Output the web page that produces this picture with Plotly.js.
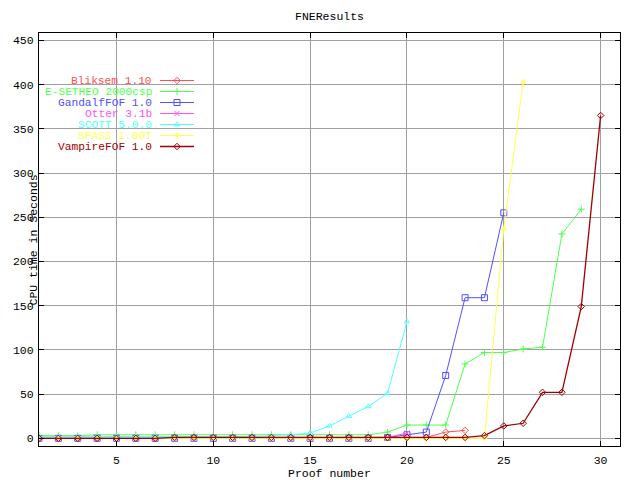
<!DOCTYPE html>
<html>
<head>
<meta charset="utf-8">
<script src="https://cdn.plot.ly/plotly-3.0.1.min.js"></script>
<style>html,body{margin:0;padding:0;background:#fff}#chart{width:640px;height:480px}</style>
</head>
<body>
<div id="chart"></div>
<script>
// ---- data ----
const seriesNames = ["Bliksem 1.10", "E-SETHEO 2000csp", "GandalfFOF 1.0", "Otter 3.1b", "SCOTT 5.0.0", "SPASS 1.00T", "VampireFOF 1.0"];
const seriesColors = ["#ff5050", "#50ff50", "#5050ff", "#ff50ff", "#50ffff", "#ffff50", "#a00000"];
const seriesSymbols = ["diamond-open", "cross-thin-open", "square-open", "x-thin-open", "triangle-up-open", "asterisk-open", "diamond-open"];

const bliksem  = [0,0,0,0,0,0,0,1,1,1,1,1,1,1,1,1,1,1,1,1,1,7,9];
const esetheo  = [3,3,3,4,4,4,4,4,4,4,4,4,4,4,4,4,4,4,7,15,15,15,84,97,97,101,103,231,259];
const gandalf  = [0,0,0,0,0,0,0,0,0,0,0,0,0,0,0,0,0,0,1,4,7,71,159,159,255];
const otter    = [0,0,0,0,0,0,0,0,0,0,0,0,0,0,0,0,0,0,1,6];
const scott    = [2,2,2,2,2,2,2,2,2,2,2,2,3,4,6,14,25,36,51,132];
const spass    = [0,0,0,0,0,0,0,0,0,0,0,0,0,0,0,0,0,0,0,0,0,0,0,0,237,403];
const vampire  = [0,0,0,0,0,0,0,1,1,1,1,1,1,1,1,1,1,1,1,1,1,1,1,3,14,17,52,52,149,365];
const allSeries = [bliksem, esetheo, gandalf, otter, scott, spass, vampire];

// ---- layout constants (pixels) ----
const W = 640, H = 480;
const L = 39, R = 620, T = 33, B = 446;
const FONT = "Liberation Mono, DejaVu Sans Mono, monospace";
const LEGFS = 11.2;

const lineW = i => (i === 6 ? 1.3 : 1);
const markerOf = i => ({symbol: seriesSymbols[i], size: i === 2 ? 6 : 5, color: seriesColors[i],
                        line: {width: 1, color: seriesColors[i]}});

const traces = allSeries.map((ys, i) => ({
  x: ys.map((_, k) => k + 1),
  y: ys,
  type: "scatter",
  mode: "lines+markers",
  name: seriesNames[i],
  line: {color: seriesColors[i], width: lineW(i)},
  marker: markerOf(i),
  showlegend: false,
  hoverinfo: "skip"
}));

// custom gnuplot-style legend: text right-aligned, sample to the right
const legRow0 = 80.5, legStep = 11, legTextRight = 153, legLine = [160, 194];
const annotations = [];
seriesNames.forEach((nm, i) => {
  const yy = legRow0 + i * legStep;
  annotations.push({
    xref: "x2", yref: "y2", x: legTextRight, y: yy, xanchor: "right", yanchor: "middle",
    text: nm, showarrow: false, borderpad: 0, font: {family: FONT, size: LEGFS, color: seriesColors[i]}
  });
  traces.push({
    x: legLine, y: [yy, yy], xaxis: "x2", yaxis: "y2", type: "scatter", mode: "lines",
    line: {color: seriesColors[i], width: lineW(i)}, showlegend: false, hoverinfo: "skip"
  });
  traces.push({
    x: [(legLine[0] + legLine[1]) / 2], y: [yy], xaxis: "x2", yaxis: "y2", type: "scatter", mode: "markers",
    marker: markerOf(i), showlegend: false, hoverinfo: "skip"
  });
});

annotations.push({
  xref: "paper", yref: "paper", x: 0.5, y: (B - 473) / (B - T), xanchor: "center", yanchor: "middle",
  text: "Proof number", showarrow: false, font: {family: FONT, size: 11.5, color: "#000"}
});
annotations.push({
  xref: "paper", yref: "paper", x: (32.5 - L) / (R - L), y: (B - 240) / (B - T), xanchor: "center", yanchor: "middle",
  text: "CPU time in Seconds", textangle: -90, showarrow: false, font: {family: FONT, size: 11.5, color: "#000"}
});

const layout = {
  width: W, height: H,
  margin: {l: L, r: W - R, t: T, b: H - B, pad: 0},
  paper_bgcolor: "#fff", plot_bgcolor: "#fff",
  showlegend: false,
  font: {family: FONT, size: 11.5, color: "#000"},
  title: {text: "FNEResults", x: 0.5, xref: "paper", xanchor: "center", y: 1 - 16 / H, yanchor: "middle",
          font: {family: FONT, size: 11.5, color: "#000"}},
  xaxis: {
    range: [1, 31], tick0: 0, dtick: 5, ticks: "inside", ticklen: 5, tickcolor: "#000", tickwidth: 1,
    showline: true, linecolor: "#000", linewidth: 1, mirror: "allticks",
    showgrid: true, gridcolor: "#a0a0a0", gridwidth: 1, zeroline: false,
    tickfont: {family: FONT, size: 11.5, color: "#000"}, ticklabelstandoff: 3
  },
  yaxis: {
    range: [-8.7, 458.3], tick0: 0, dtick: 50, ticks: "inside", ticklen: 5, tickcolor: "#000", tickwidth: 1,
    showline: true, linecolor: "#000", linewidth: 1, mirror: "allticks",
    showgrid: true, gridcolor: "#a0a0a0", gridwidth: 1, zeroline: false,
    tickfont: {family: FONT, size: 11.5, color: "#000"}, ticklabelstandoff: 2
  },
  xaxis2: {overlaying: "x", range: [L, R], visible: false, fixedrange: true},
  yaxis2: {overlaying: "y", range: [B, T], visible: false, fixedrange: true},
  annotations: annotations
};

Plotly.newPlot("chart", traces, layout, {staticPlot: true, displayModeBar: false});
</script>
</body>
</html>
